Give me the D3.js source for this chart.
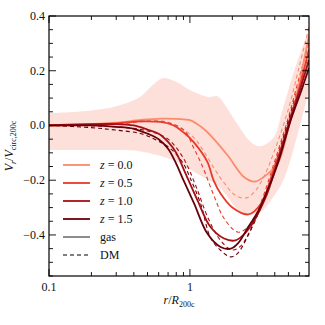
<!DOCTYPE html>
<html>
<script src='https://cdn.jsdelivr.net/npm/d3@7'></script>
<style>
 body {margin:0; background:#fff;}
 svg text {font-family:"Liberation Serif","Times New Roman","DejaVu Serif",serif; fill:#111;}
</style>
<body onload='init()'>
<svg width=325 height=325 font-family='Liberation Serif, serif'></svg>
<script>

// redshift labels + colours
var redshifts = ['0.0','0.5','1.0','1.5'];
var colors = ['#fc8b6d','#e8392a','#a50f15','#67000d'];

// radius grid (r/R200c) for each curve
var gasR = [
 [0.1,0.2,0.3,0.45,0.62,0.8,1.01,1.2,1.4,1.85,2.42,2.9,3.6,4.2,5,6,7],
 [0.1,0.2,0.3,0.45,0.62,0.76,0.9,1.06,1.33,1.47,1.65,2.0,2.6,3.2,4,5,6,7],
 [0.1,0.3,0.4,0.5,0.6,0.7,0.8,0.91,1.13,1.4,1.75,2.1,2.57,3.4,4.2,5.2,6.2,7],
 [0.1,0.2,0.3,0.4,0.5,0.6,0.7,0.8,0.9,1.07,1.33,1.65,1.95,2.2,2.6,3.0,3.4,4.2,5.2,6.2,7]
];
var gasV = [
 [0,0.005,0.01,0.02,0.025,0.024,0.019,-0.005,-0.036,-0.109,-0.188,-0.205,-0.175,-0.14,-0.01,0.16,0.33],
 [0,0.003,0.008,0.015,0.013,0.001,-0.025,-0.06,-0.133,-0.2,-0.249,-0.3,-0.325,-0.285,-0.15,0.0,0.14,0.28],
 [0,0.005,0,-0.015,-0.03,-0.06,-0.1,-0.164,-0.273,-0.371,-0.413,-0.42,-0.383,-0.27,-0.13,0.03,0.15,0.24],
 [0,0,-0.005,-0.012,-0.03,-0.05,-0.085,-0.14,-0.2,-0.285,-0.395,-0.444,-0.45,-0.43,-0.37,-0.32,-0.26,-0.14,0.02,0.13,0.21]
];
var dmR = [
 [0.1,0.2,0.3,0.5,0.7,0.86,1.07,1.26,1.5,1.75,2.1,2.5,2.9,3.4,4.0,5,6,7],
 [0.1,0.3,0.5,0.7,0.91,1.07,1.22,1.49,1.75,2.2,2.7,3.2,4,5,6,7],
 [0.1,0.3,0.5,0.7,0.9,1.1,1.35,1.65,2.0,2.3,2.7,3.4,4.2,5.2,6.2,7],
 [0.1,0.2,0.3,0.45,0.58,0.73,0.9,1.0,1.19,1.4,1.65,1.95,2.18,2.6,3.0,3.4,4.2,5.2,6.2,7]
];
var dmV = [
 [0,0.004,0.01,0.02,0.012,-0.01,-0.045,-0.097,-0.16,-0.21,-0.255,-0.265,-0.24,-0.18,-0.09,0.06,0.22,0.36],
 [0,0.005,0.015,0.01,-0.018,-0.085,-0.146,-0.26,-0.34,-0.39,-0.36,-0.28,-0.13,0.03,0.18,0.3],
 [0,-0.005,-0.02,-0.05,-0.12,-0.22,-0.34,-0.42,-0.455,-0.44,-0.38,-0.26,-0.11,0.05,0.18,0.26],
 [0,-0.008,-0.017,-0.03,-0.054,-0.085,-0.14,-0.19,-0.285,-0.41,-0.456,-0.48,-0.467,-0.4,-0.33,-0.26,-0.12,0.04,0.16,0.23]
];

// scatter band (z = 0 gas)
var bandUpR = [0.1,0.2,0.3,0.43,0.55,0.636,0.8,1.0,1.36,1.58,1.8,2.24,2.7,3.15,3.95,4.5,5.5,7];
var bandUpV = [0.045,0.055,0.07,0.1,0.15,0.173,0.16,0.13,0.104,0.106,0.07,-0.006,-0.06,-0.076,-0.042,0.05,0.2,0.35];
var bandLoR = [0.1,0.3,0.45,0.77,1.0,1.2,1.58,2.3,2.8,3.3,3.8,4.6,5.9,7];
var bandLoV = [-0.09,-0.09,-0.095,-0.128,-0.16,-0.185,-0.22,-0.317,-0.325,-0.31,-0.27,-0.2,-0.02,0.13];

var yMajor = [-0.4,-0.2,0.0,0.2,0.4];
var xMajor = [0.1,1];

function init() {
 var left = 49, top = 16, w = 260, h = 260;
 var x = d3.scaleLog().domain([0.1,7]).range([0,w]);
 var y = d3.scaleLinear().domain([-0.55,0.4]).range([h,0]);

 var svg = d3.select('svg');
 svg.append('defs').append('clipPath').attr('id','clip')
  .append('rect').attr('width',w).attr('height',h);

 var g = svg.append('g').attr('transform','translate('+left+','+top+')');
 var plot = g.append('g').attr('clip-path','url(#clip)');

 var line = d3.line().x(function(d){return x(d[0]);}).y(function(d){return y(d[1]);})
  .curve(d3.curveCatmullRom.alpha(0.5));

 // band
 var up = bandUpR.map(function(r,i){return [r,bandUpV[i]];});
 var lo = bandLoR.map(function(r,i){return [r,bandLoV[i]];}).reverse();
 var bandPath = line(up) + 'L' + line(lo).slice(1) + 'Z';
 plot.append('path').attr('d',bandPath).attr('fill','#fde0da').attr('stroke','none');

 // DM dashed then gas solid
 redshifts.forEach(function(z,i){
  plot.append('path')
   .attr('d', line(dmR[i].map(function(r,j){return [r,dmV[i][j]];})))
   .attr('fill','none').attr('stroke',colors[i]).attr('stroke-width',1.1)
   .attr('stroke-dasharray','4,3');
 });
 redshifts.forEach(function(z,i){
  plot.append('path')
   .attr('d', line(gasR[i].map(function(r,j){return [r,gasV[i][j]];})))
   .attr('fill','none').attr('stroke',colors[i]).attr('stroke-width',1.8);
 });

 // frame
 g.append('rect').attr('width',w).attr('height',h)
  .attr('fill','none').attr('stroke','#000').attr('stroke-width',1.2);

 // ticks (inward, on all sides)
 var xMinor = [0.2,0.3,0.4,0.5,0.6,0.7,0.8,0.9,2,3,4,5,6];
 var yMinor = d3.range(-0.55,0.401,0.05).map(function(v){return Math.round(v*100)/100;})
  .filter(function(v){return yMajor.indexOf(v)<0;});
 var tk = g.append('g').attr('stroke','#000').attr('stroke-width',0.9);
 function xt(v,len){
  tk.append('line').attr('x1',x(v)).attr('x2',x(v)).attr('y1',h).attr('y2',h-len);
  tk.append('line').attr('x1',x(v)).attr('x2',x(v)).attr('y1',0).attr('y2',len);
 }
 function yt(v,len){
  tk.append('line').attr('y1',y(v)).attr('y2',y(v)).attr('x1',0).attr('x2',len);
  tk.append('line').attr('y1',y(v)).attr('y2',y(v)).attr('x1',w).attr('x2',w-len);
 }
 xMajor.forEach(function(v){xt(v,7);});
 xMinor.forEach(function(v){xt(v,4);});
 yMajor.forEach(function(v){yt(v,7);});
 yMinor.forEach(function(v){yt(v,4);});

 // tick labels
 var fmt = function(v){ return (v<0?'\u2212':'') + Math.abs(v).toFixed(1); };
 yMajor.forEach(function(v){
  g.append('text').attr('x',-4).attr('y',y(v)+4).attr('text-anchor','end')
   .style('font-size','12px').text(fmt(v));
 });
 xMajor.forEach(function(v){
  g.append('text').attr('x',x(v)).attr('y',h+15).attr('text-anchor','middle')
   .style('font-size','12px').text(v);
 });

 // axis titles
 var xl = svg.append('text').attr('x',left+w/2).attr('y',304).attr('text-anchor','middle')
  .style('font-size','12px');
 xl.append('tspan').style('font-style','italic').text('r');
 xl.append('tspan').text('/');
 xl.append('tspan').style('font-style','italic').text('R');
 xl.append('tspan').attr('dy',3).style('font-size','8px').text('200c');

 var yl = svg.append('text').attr('transform','translate(13,'+(top+h/2)+') rotate(-90)')
  .attr('text-anchor','middle').style('font-size','12px');
 yl.append('tspan').style('font-style','italic').text('V');
 yl.append('tspan').attr('dy',3).style('font-size','8px').style('font-style','italic').text('r');
 yl.append('tspan').attr('dy',-3).text('/');
 yl.append('tspan').style('font-style','italic').text('V');
 yl.append('tspan').attr('dy',3).style('font-size','8px').text('circ,200c');

 // legend
 var lg = svg.append('g').attr('transform','translate(63,165)');
 var labels = redshifts.concat(['gas','DM']);
 labels.forEach(function(lab,i){
  var yy = i*18;
  var ln = lg.append('line').attr('x1',0).attr('x2',27).attr('y1',yy).attr('y2',yy)
   .attr('stroke-width',1.8);
  if (i<4) ln.attr('stroke',colors[i]);
  else if (i==4) ln.attr('stroke','#808080');
  else ln.attr('stroke','#000').attr('stroke-width',1.1).attr('stroke-dasharray','4,3');
  var t = lg.append('text').attr('x',37).attr('y',yy+4).style('font-size','12px');
  if (i<4) {
   t.append('tspan').style('font-style','italic').text('z');
   t.append('tspan').text(' = '+lab);
  } else t.text(lab);
 });
}

</script>
</body>
</html>
